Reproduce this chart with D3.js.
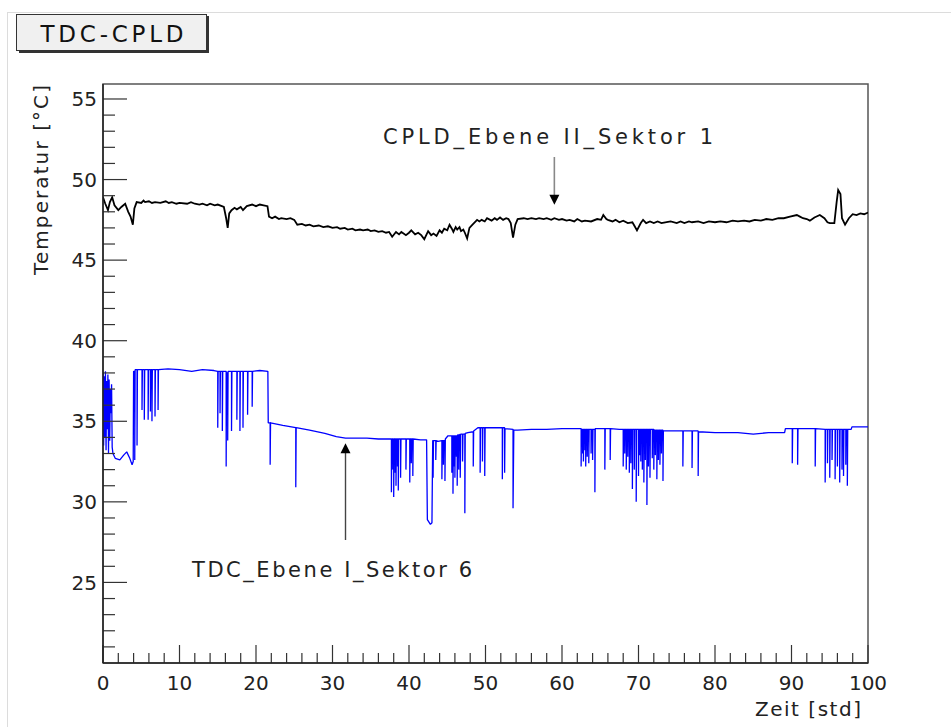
<!DOCTYPE html>
<html><head><meta charset="utf-8">
<script src="https://cdn.jsdelivr.net/npm/d3@7"></script>
<style>html,body{margin:0;padding:0;background:#fff;}svg{display:block;}</style>
</head><body>
<svg id="c" width="951" height="727"></svg>
<script>
const title = "TDC-CPLD";
const xLabel = "Zeit [std]";
const yLabel = "Temperatur [°C]";
const xTicks = [0,10,20,30,40,50,60,70,80,90,100];
const yTicks = [25,30,35,40,45,50,55];
const cpldName = "CPLD_Ebene II_Sektor 1";
const tdcName = "TDC_Ebene I_Sektor 6";
const cpldArrow = [59.0, 48.0];
const tdcArrow = [31.7, 33.7];

const cpld = [
[0,48.9],[0.3,48.5],[0.65,48.1],[0.9,48.6],[1.2,48.9],[1.5,48.4],[2.0,48.1],[2.4,48.3],[2.9,48.5],[3.3,48.0],[3.6,47.7],[3.9,47.2],[4.1,48.2],[4.4,48.6],[5.0,48.55],[5.3,48.7],[5.5,48.6],[6.0,48.65],[6.4,48.55],[6.8,48.6],[7.5,48.55],[8.2,48.65],[8.6,48.55],[9,48.6],[9.6,48.5],[10,48.55],[11,48.5],[11.5,48.6],[12,48.5],[12.6,48.45],[13,48.5],[13.6,48.4],[14,48.5],[14.6,48.4],[15,48.45],[15.8,48.3],[16.1,47.6],[16.3,47.0],[16.5,47.9],[16.8,48.1],[17.2,48.25],[17.5,48.15],[18.0,48.3],[18.3,48.1],[18.8,48.35],[19.5,48.45],[20.0,48.35],[20.5,48.45],[21.0,48.4],[21.5,48.35],[21.7,47.7],[22.1,47.6],[22.5,47.7],[23.0,47.55],[23.3,47.6],[24.0,47.55],[24.5,47.6],[25.0,47.5],[25.4,47.2],[26.0,47.25],[26.5,47.15],[27.0,47.2],[27.5,47.1],[28.2,47.15],[28.8,47.05],[29.4,47.1],[30,47.0],[30.6,47.05],[31,46.95],[31.6,47.0],[32,46.9],[32.6,46.95],[33,46.85],[33.6,46.9],[34,46.85],[34.6,46.9],[35,46.8],[35.5,46.85],[36,46.75],[36.5,46.8],[37,46.7],[37.4,46.75],[37.8,46.45],[38.3,46.75],[38.7,46.6],[39.0,46.75],[39.6,46.55],[40.0,46.7],[40.3,46.85],[40.8,46.6],[41.2,46.7],[41.6,46.55],[42.0,46.3],[42.5,46.8],[42.9,46.55],[43.2,46.65],[43.6,46.5],[44.0,46.85],[44.3,46.7],[44.6,46.95],[45.0,46.85],[45.3,47.2],[45.6,46.95],[45.8,46.75],[46.1,47.05],[46.3,46.9],[46.6,47.05],[46.8,46.8],[47.1,46.9],[47.3,46.7],[47.6,46.35],[47.9,47.0],[48.3,47.2],[48.9,47.5],[49.2,47.4],[49.5,47.5],[49.9,47.4],[50.2,47.6],[50.8,47.45],[51.2,47.6],[51.5,47.5],[51.9,47.65],[52.3,47.5],[52.7,47.6],[53.0,47.55],[53.3,47.3],[53.6,46.4],[53.9,47.2],[54.2,47.55],[55,47.6],[55.5,47.55],[56,47.6],[56.6,47.55],[57,47.6],[57.6,47.55],[58,47.6],[58.6,47.5],[59,47.6],[59.6,47.5],[60,47.55],[60.6,47.45],[61,47.5],[61.6,47.4],[62,47.55],[62.6,47.4],[63,47.45],[63.8,47.4],[64.6,47.55],[65.1,47.5],[65.4,47.8],[65.8,47.55],[66,47.5],[66.6,47.4],[67,47.5],[67.5,47.35],[68,47.45],[68.6,47.3],[69.2,47.35],[69.5,47.1],[69.8,46.85],[70.3,47.3],[70.6,47.5],[71.0,47.3],[71.5,47.4],[72.0,47.3],[72.5,47.4],[73.0,47.3],[73.5,47.35],[74.2,47.4],[75,47.3],[75.5,47.4],[76,47.3],[76.6,47.4],[77,47.35],[77.8,47.4],[78.5,47.3],[79.2,47.4],[80,47.35],[80.7,47.4],[81.5,47.35],[82.3,47.45],[83,47.4],[83.8,47.45],[84.5,47.4],[85.2,47.5],[86,47.45],[86.7,47.55],[87.5,47.5],[88.3,47.6],[89,47.6],[89.8,47.7],[90.7,47.8],[91.1,47.7],[91.5,47.6],[92.0,47.55],[92.4,47.45],[93.0,47.65],[93.7,47.8],[94.3,47.6],[94.7,47.35],[95.0,47.3],[95.6,47.3],[95.9,48.6],[96.1,49.35],[96.4,49.1],[96.6,47.6],[97.0,47.2],[97.5,47.6],[98.0,47.85],[98.5,47.8],[99,47.9],[99.5,47.85],[100,47.95]
];

const tdc = [
[0,38.0],[0.08,33.5],[0.16,37.8],[0.24,34.0],[0.32,38.1],[0.4,33.2],[0.48,37.5],[0.56,34.5],[0.64,37.9],[0.72,33.0],[0.8,37.6],[0.88,33.8],[0.96,37.0],[1.04,35.5],[1.12,37.3],[1.2,33.4],[1.3,33.0],
[1.6,32.7],[2.2,32.6],[2.7,32.9],[3.1,33.1],[3.5,32.7],[3.8,32.3],[3.95,32.5],[4.0,38.1],[4.15,38.1],[4.15,32.6],[4.2,38.2],[4.45,38.2],[4.45,33.5],[4.5,38.2],
[5.1,38.2],[5.1,35.7],[5.15,38.2],[5.4,38.2],[5.4,35.1],[5.45,38.2],[5.9,38.2],[5.9,35.1],[5.95,38.2],[6.2,38.2],[6.2,35.6],[6.25,38.2],[6.4,38.2],[6.4,35.0],[6.45,38.2],[6.8,38.2],[6.8,35.3],[6.85,38.2],[7.2,38.2],[7.2,35.7],[7.25,38.2],
[8.5,38.25],[10,38.2],[11.6,38.1],[13,38.2],[14.5,38.15],
[15.0,38.1],[15.0,34.6],[15.05,38.1],[15.3,38.1],[15.3,35.5],[15.35,38.1],[15.6,38.1],[15.6,34.4],[15.65,38.1],[16.1,38.1],[16.1,32.2],[16.15,38.0],[16.3,38.0],[16.3,33.8],[16.35,38.1],[16.8,38.1],[16.8,34.4],[16.85,38.1],[17.5,38.1],[17.5,35.1],[17.55,38.1],[17.9,38.1],[17.9,34.4],[17.95,38.1],[18.3,38.1],[18.3,34.6],[18.35,38.1],[18.9,38.1],[18.9,35.4],[18.95,38.1],[19.5,38.1],[19.5,35.9],[19.55,38.1],[20.5,38.15],[21.55,38.1],
[21.6,34.9],[21.85,34.9],[21.85,32.3],[21.9,34.9],[23.5,34.75],[25.2,34.6],[25.2,30.9],[25.25,34.6],[27,34.45],[29,34.25],[30.5,34.05],[31.7,33.95],[33,33.95],[34.5,33.95],[36,33.9],[37.5,33.9],
[37.7,33.9],[37.7,30.6],[37.75,33.9],[37.9,33.9],[37.9,32.0],[37.95,33.9],[38.0,33.9],[38.0,30.3],[38.05,33.9],[38.2,33.9],[38.2,31.8],[38.25,33.9],[38.3,33.9],[38.3,31.0],[38.35,33.9],[38.5,33.9],[38.5,32.2],[38.55,33.9],[38.6,33.9],[38.6,30.7],[38.65,33.9],[38.9,33.9],[38.9,31.5],[38.95,33.9],[39.6,33.9],[39.6,32.0],[39.65,33.9],[40.1,33.9],[40.1,31.2],[40.15,33.9],[40.3,33.9],[40.3,32.4],[40.35,33.9],[40.5,33.9],[40.5,31.6],[40.55,33.9],[41.5,33.85],[42.3,33.85],[42.4,28.9],[42.8,28.6],[43.0,28.7],[43.1,33.8],[43.15,33.8],[43.15,31.5],[43.2,33.8],[43.5,33.8],[43.5,32.6],[43.55,33.8],[43.8,33.75],[44.3,33.8],[44.3,31.4],[44.35,33.8],[44.5,33.8],[44.5,32.3],[44.55,33.8],[44.7,33.8],[44.7,31.3],[44.75,33.9],[45.1,34.1],[45.6,34.1],[45.6,31.8],[45.65,34.1],[45.75,34.1],[45.75,30.5],[45.8,34.1],[45.9,34.1],[45.9,32.2],[45.95,34.1],[46.0,34.1],[46.0,31.5],[46.05,34.1],[46.2,34.1],[46.2,32.8],[46.25,34.1],[46.3,34.1],[46.3,31.0],[46.35,34.15],[46.5,34.15],[46.5,32.0],[46.55,34.15],[46.7,34.2],[46.7,31.5],[46.75,34.2],[47.0,34.2],[47.0,32.5],[47.05,34.2],[47.3,34.2],[47.3,29.3],[47.35,34.25],[47.7,34.3],[48.4,34.35],[48.4,32.2],[48.45,34.4],[49.0,34.6],[49.3,34.6],[49.3,31.8],[49.35,34.6],[49.6,34.6],[49.6,32.5],[49.65,34.6],[49.9,34.6],[49.9,31.6],[49.95,34.6],[51.5,34.6],[52.2,34.6],[52.2,31.4],[52.25,34.6],[52.5,34.6],[52.5,31.8],[52.55,34.55],[53.6,34.5],[53.6,29.6],[53.7,34.45],[54.2,34.45],[56,34.5],[58,34.5],[60,34.55],[62.3,34.55],
[62.5,34.55],[62.5,32.2],[62.55,34.5],[62.7,34.5],[62.7,33.0],[62.75,34.5],[62.8,34.5],[62.8,32.5],[62.85,34.5],[63.0,34.5],[63.0,33.2],[63.05,34.5],[63.1,34.5],[63.1,32.2],[63.15,34.5],[63.3,34.5],[63.3,32.8],[63.35,34.5],[63.5,34.5],[63.5,32.4],[63.55,34.5],[63.8,34.5],[63.8,33.0],[63.85,34.5],[64.0,34.5],[64.0,32.6],[64.05,34.5],[64.3,34.5],[64.3,30.6],[64.35,34.55],[65.6,34.55],[65.6,32.0],[65.65,34.55],[66.3,34.55],[66.3,32.6],[66.35,34.55],[67.5,34.5],
[68.0,34.5],[68.0,32.2],[68.05,34.5],[68.2,34.5],[68.2,33.0],[68.25,34.5],[68.4,34.5],[68.4,32.0],[68.45,34.5],[68.6,34.5],[68.6,32.8],[68.65,34.5],[68.8,34.5],[68.8,31.8],[68.85,34.5],[69.0,34.5],[69.0,32.4],[69.05,34.5],[69.2,34.5],[69.2,30.8],[69.25,34.5],[69.45,34.5],[69.45,32.0],[69.5,34.5],[69.7,34.5],[69.7,30.0],[69.75,34.5],[70.0,34.5],[70.0,31.6],[70.05,34.5],[70.15,34.5],[70.15,32.9],[70.2,34.5],[70.3,34.5],[70.3,32.5],[70.35,34.5],[70.5,34.5],[70.5,32.0],[70.55,34.5],[70.7,34.5],[70.7,31.2],[70.75,34.5],[70.9,34.5],[70.9,32.6],[70.95,34.5],[71.1,34.5],[71.1,29.8],[71.15,34.5],[71.3,34.5],[71.3,32.2],[71.35,34.5],[71.5,34.5],[71.5,31.5],[71.55,34.5],[71.8,34.5],[71.8,32.7],[71.85,34.5],[72.0,34.5],[72.0,32.0],[72.05,34.45],[72.2,34.45],[72.2,32.9],[72.25,34.45],[72.4,34.45],[72.4,31.4],[72.45,34.45],[72.6,34.45],[72.6,32.6],[72.65,34.45],[72.8,34.45],[72.8,32.3],[72.85,34.45],[73.0,34.45],[73.0,33.0],[73.05,34.45],[73.2,34.45],[73.2,31.3],[73.25,34.4],[74.5,34.4],[75.8,34.4],[75.8,32.2],[75.85,34.4],[77.0,34.4],[77.0,32.1],[77.05,34.4],[77.8,34.4],[77.8,31.6],[77.85,34.35],[80,34.3],[83,34.3],[85,34.2],[87,34.3],[89.1,34.3],[89.2,34.55],[90.1,34.55],[90.1,32.4],[90.15,34.55],[90.8,34.55],[90.8,32.3],[90.85,34.55],[92.5,34.55],[93.1,34.55],[93.1,32.2],[93.15,34.55],[94.4,34.5],[94.4,31.2],[94.45,34.5],[94.7,34.5],[94.7,32.4],[94.75,34.5],[95.0,34.5],[95.0,31.5],[95.05,34.5],[95.3,34.5],[95.3,32.6],[95.35,34.5],[95.7,34.5],[95.7,31.4],[95.75,34.5],[96.0,34.5],[96.0,32.2],[96.05,34.5],[96.3,34.5],[96.3,31.2],[96.35,34.5],[96.6,34.5],[96.6,32.0],[96.65,34.5],[96.8,34.5],[96.8,31.6],[96.85,34.5],[97.1,34.5],[97.1,32.3],[97.15,34.5],[97.3,34.5],[97.3,31.0],[97.35,34.5],[97.8,34.5],[97.9,34.65],[100,34.65]
];

const svg = d3.select("#c");
const font = "'DejaVu Sans', Verdana, sans-serif";
const L = 103, R = 868, T = 84, B = 663;
const x = d3.scaleLinear().domain([0,100]).range([L,R]);
const y = d3.scaleLinear().domain([20,55.93]).range([B,T]);

// outer pad border
svg.append("rect").attr("x",7.5).attr("y",12.5).attr("width",960).attr("height",740)
  .attr("fill","#fff").attr("stroke","#dcdcdc").attr("stroke-width",1);

// title box
svg.append("rect").attr("x",19).attr("y",16).attr("width",190).attr("height",37).attr("fill","#333");
svg.append("rect").attr("x",16.5).attr("y",14.5).attr("width",190).attr("height",36)
  .attr("fill","#f0f0f0").attr("stroke","#333").attr("stroke-width",1);
svg.append("text").attr("x",112).attr("y",42).attr("text-anchor","middle")
  .attr("font-family",font).attr("font-size",23).attr("fill","#111")
  .attr("textLength",143).attr("lengthAdjust","spacing").text(title);

// plot frame
svg.append("rect").attr("x",L).attr("y",T).attr("width",R-L).attr("height",B-T)
  .attr("fill","#fff").attr("stroke","#555").attr("stroke-width",1.5);

// lines
const line = d3.line().x(d=>x(d[0])).y(d=>y(d[1]));
svg.append("clipPath").attr("id","pc").append("rect")
  .attr("x",L).attr("y",T).attr("width",R-L).attr("height",B-T);
svg.append("path").datum(tdc).attr("d",line).attr("fill","none")
  .attr("stroke","#0000ff").attr("stroke-width",1.3).attr("stroke-linejoin","bevel").attr("clip-path","url(#pc)");
svg.append("path").datum(cpld).attr("d",line).attr("fill","none")
  .attr("stroke","#000").attr("stroke-width",1.8).attr("clip-path","url(#pc)");

// x axis ticks
const xMinor = d3.range(0,100.001,2);
svg.append("g").selectAll("line").data(xMinor).join("line")
  .attr("x1",d=>x(d)).attr("x2",d=>x(d)).attr("y1",B)
  .attr("y2",d=>xTicks.includes(d)?B-18:B-10)
  .attr("stroke","#333").attr("stroke-width",1.2);
svg.append("line").attr("x1",L).attr("x2",R).attr("y1",B).attr("y2",B).attr("stroke","#222").attr("stroke-width",1.5);
svg.append("g").selectAll("text").data(xTicks).join("text")
  .attr("x",d=>x(d)).attr("y",690).attr("text-anchor","middle")
  .attr("font-family",font).attr("font-size",20).attr("fill","#222").text(d=>d);

// y axis ticks
const yMinor = d3.range(21,55.5,1);
svg.append("g").selectAll("line").data(yMinor).join("line")
  .attr("y1",d=>y(d)).attr("y2",d=>y(d)).attr("x1",L)
  .attr("x2",d=>yTicks.includes(d)?L+24:L+12)
  .attr("stroke","#333").attr("stroke-width",1.2);
svg.append("line").attr("x1",L).attr("x2",L).attr("y1",T).attr("y2",B).attr("stroke","#222").attr("stroke-width",1.5);
svg.append("g").selectAll("text").data(yTicks).join("text")
  .attr("x",97).attr("y",d=>y(d)).attr("dy","0.36em").attr("text-anchor","end")
  .attr("font-family",font).attr("font-size",20).attr("fill","#222").text(d=>d);

// axis titles
svg.append("text").attr("x",861).attr("y",716).attr("text-anchor","end")
  .attr("font-family",font).attr("font-size",20).attr("fill","#222")
  .attr("textLength",106).attr("lengthAdjust","spacing").text(xLabel);
svg.append("text").attr("transform","translate(48,180) rotate(-90)").attr("text-anchor","middle")
  .attr("font-family",font).attr("font-size",20).attr("fill","#222")
  .attr("textLength",190).attr("lengthAdjust","spacing").text(yLabel);

// annotations
svg.append("text").attr("x",548).attr("y",144).attr("text-anchor","middle")
  .attr("font-family",font).attr("font-size",21).attr("fill","#222")
  .attr("textLength",330).attr("lengthAdjust","spacing").text(cpldName);
const ax1 = x(cpldArrow[0]), ay1 = y(cpldArrow[1]) - 7;
svg.append("line").attr("x1",ax1).attr("x2",ax1).attr("y1",157).attr("y2",ay1-6)
  .attr("stroke","#888").attr("stroke-width",1.6);
svg.append("path").attr("d",`M${ax1-5},${ay1-10}L${ax1+5},${ay1-10}L${ax1},${ay1}Z`).attr("fill","#000");

svg.append("text").attr("x",332).attr("y",577).attr("text-anchor","middle")
  .attr("font-family",font).attr("font-size",21).attr("fill","#222")
  .attr("textLength",280).attr("lengthAdjust","spacing").text(tdcName);
const ax2 = x(tdcArrow[0]), ay2 = y(tdcArrow[1]) + 1;
svg.append("line").attr("x1",ax2).attr("x2",ax2).attr("y1",540).attr("y2",ay2+6)
  .attr("stroke","#444").attr("stroke-width",1.4);
svg.append("path").attr("d",`M${ax2-5},${ay2+10}L${ax2+5},${ay2+10}L${ax2},${ay2}Z`).attr("fill","#000");
</script>
</body></html>
